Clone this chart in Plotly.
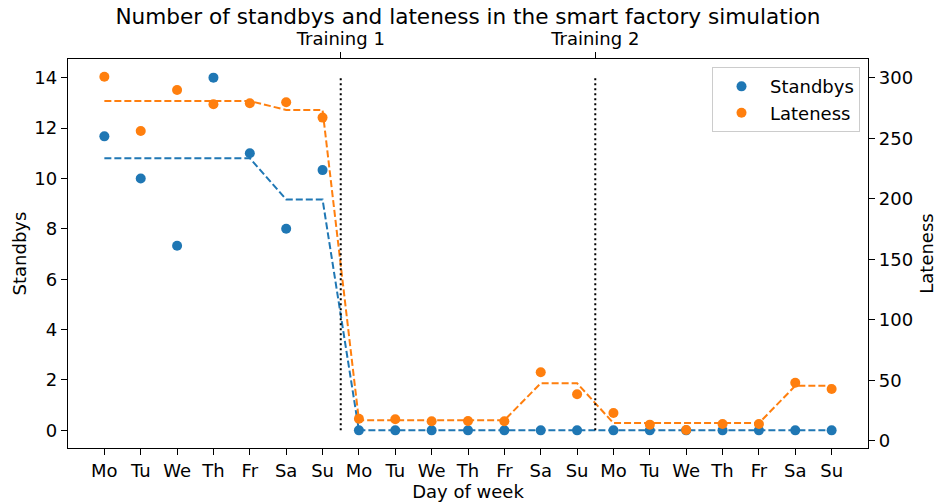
import plotly.graph_objects as go
import pandas as pd

# ---- data ----
day_labels = ["Mo", "Tu", "We", "Th", "Fr", "Sa", "Su"] * 3
standbys = [11.67, 10.0, 7.33, 14.0, 11.0, 8.0, 10.33,
            0, 0, 0, 0, 0, 0, 0,
            0, 0, 0, 0, 0, 0, 0]
lateness = [300.8, 256.0, 289.8, 278.0, 278.9, 279.7, 267.0,
            18.4, 17.9, 16.3, 16.5, 16.3, 56.7, 38.6,
            23.1, 13.5, 9.1, 14.0, 14.0, 48.1, 42.9]
training_pos = [6.5, 13.5]
training_labels = ["Training 1", "Training 2"]

# ---- derived: mean per week, separately for weekdays and weekend ----
df = pd.DataFrame({"day": day_labels, "standbys": standbys, "lateness": lateness})
df["x"] = range(len(df))
df["week"] = df["x"] // 7
df["weekend"] = df["day"].isin(["Sa", "Su"])
df["standbys_mean"] = df.groupby(["week", "weekend"])["standbys"].transform("mean")
df["lateness_mean"] = df.groupby(["week", "weekend"])["lateness"].transform("mean")

BLUE = "#1f77b4"
ORANGE = "#ff7f0e"
FONT = "DejaVu Sans"
FS = 18

fig = go.Figure()

# training dotted lines (on left axis, 0..14)
for tp in training_pos:
    fig.add_trace(go.Scatter(x=[tp, tp], y=[0, 14], mode="lines", xaxis="x2", yaxis="y",
                             line=dict(color="black", width=2, dash="2px,3px"),
                             showlegend=False, hoverinfo="skip"))

fig.add_trace(go.Scatter(x=df["x"], y=df["standbys_mean"], mode="lines", yaxis="y",
                         line=dict(color=BLUE, width=2, dash="7px,3px"), showlegend=False))
fig.add_trace(go.Scatter(x=df["x"], y=df["standbys"], mode="markers", yaxis="y",
                         name="Standbys", marker=dict(color=BLUE, size=10)))
fig.add_trace(go.Scatter(x=df["x"], y=df["lateness_mean"], mode="lines", yaxis="y2",
                         line=dict(color=ORANGE, width=2, dash="7px,3px"), showlegend=False))
fig.add_trace(go.Scatter(x=df["x"], y=df["lateness"], mode="markers", yaxis="y2",
                         name="Lateness", marker=dict(color=ORANGE, size=10)))

axis_common = dict(showline=True, linecolor="black", linewidth=1.3, ticks="outside",
                   ticklen=6, tickwidth=1.3, tickcolor="black", showgrid=False,
                   zeroline=False, automargin=False,
                   tickfont=dict(family=FONT, size=FS, color="black"))

fig.update_layout(
    width=937, height=502,
    margin=dict(l=68, r=69, t=59, b=54),
    paper_bgcolor="white", plot_bgcolor="white",
    font=dict(family=FONT, size=FS, color="black"),
    title=dict(text="Number of standbys and lateness in the smart factory simulation",
               x=0.5, xref="paper", xanchor="center", y=0.968, yanchor="middle",
               font=dict(family=FONT, size=21.6, color="black")),
    xaxis=dict(range=[-1, 21], tickmode="array", tickvals=list(range(len(day_labels))),
               ticktext=day_labels,
               title=dict(text="Day of week", standoff=0, font=dict(size=FS)), **axis_common),
    xaxis2=dict(range=[-1, 21], overlaying="x", side="top", tickmode="array",
                tickvals=training_pos, ticktext=training_labels, **axis_common),
    yaxis=dict(range=[-0.7, 14.74], tickmode="array", tickvals=[0, 2, 4, 6, 8, 10, 12, 14],
               title=dict(text="Standbys", standoff=3, font=dict(size=FS)), **axis_common),
    yaxis2=dict(range=[-5.8, 315.4], overlaying="y", side="right", tickmode="array",
                tickvals=[0, 50, 100, 150, 200, 250, 300],
                title=dict(text="Lateness", standoff=8, font=dict(size=FS)), **axis_common),
    legend=dict(x=0.99, xanchor="right", y=0.979, yanchor="top", bgcolor="white",
                bordercolor="#cccccc", borderwidth=1, font=dict(family=FONT, size=FS),
                itemwidth=47),
    showlegend=True,
)

fig.write_html("out.html", config={"displayModeBar": False},
               post_script="document.body.style.margin='0px';")
